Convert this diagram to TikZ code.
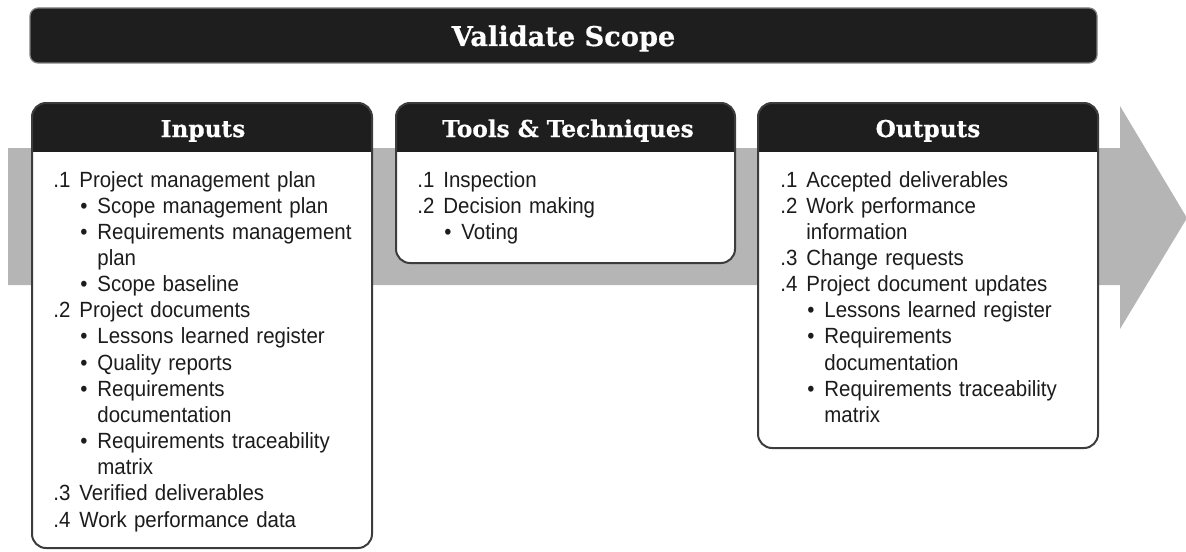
\documentclass[tikz,border=0pt]{standalone}
\usepackage{fontspec}
\setmainfont[FakeStretch=0.93]{Liberation Sans}
\newfontfamily\slabfont[FakeBold=0.6]{DejaVu Serif}
\usetikzlibrary{positioning}

\definecolor{bandgray}{RGB}{181,181,181}
\definecolor{headblack}{RGB}{30,30,30}
\definecolor{rimgray}{RGB}{60,60,60}
\definecolor{inkgray}{RGB}{28,28,28}

\newlength\numw \setlength\numw{13pt}
\newlength\bulw \setlength\bulw{22pt}
% numbered line and bullet line, wrapped lines hang under the text
\newcommand\numitem[2]{\hangindent\numw\hangafter1\noindent\makebox[\numw][l]{#1}#2\par}
\newcommand\bulitem[1]{\hangindent\bulw\hangafter1\noindent\hspace*{\numw}%
  \makebox[\dimexpr\bulw-\numw\relax][l]{\hspace{0.5pt}\textbullet}#1\par}

\begin{document}
\begin{tikzpicture}[x=0.5pt, y=-0.5pt,
    headtxt/.style={text=white, inner sep=0, anchor=base,
                    font=\slabfont\bfseries\fontsize{11.6}{13}\selectfont},
    listtxt/.style={text=inkgray, inner sep=0, text width=160pt, align=left,
                    anchor=base west, font=\fontsize{11}{13.08}\selectfont},
    boxrim/.style={draw=rimgray, line width=1pt, rounded corners=7pt}]
  \useasboundingbox (0,0) rectangle (1186,551);

  % big grey arrow behind the boxes
  \fill[bandgray] (8,148) -- (1120,148) -- (1120,106) -- (1187,218)
                  -- (1120,329) -- (1120,285) -- (8,285) -- cycle;

  % title bar
  \node[fill=headblack, draw=gray, line width=0.6pt, rounded corners=4pt,
        minimum width=533.5pt, minimum height=27.5pt, inner sep=0] (bar) at (563.5,35.5) {};
  \node[headtxt, font=\slabfont\bfseries\fontsize{13.6}{15}\selectfont] (bartxt) at (563.5,46) {Validate Scope};

  % the three boxes: white body, black head
  \foreach \xl/\xr/\yb in {32/372/548, 396/735/263, 758/1098/448} {
    \fill[white, rounded corners=7pt] (\xl,103) rectangle (\xr,\yb);
    \begin{scope}
      \clip (\xl,100) rectangle (\xr,151);
      \fill[headblack, rounded corners=7pt] (\xl,103) rectangle (\xr,\yb);
    \end{scope}
    \draw[boxrim] (\xl,103) rectangle (\xr,\yb);
  }

  \node[headtxt] (intitle) at (203,137) {Inputs};
  \node[headtxt] (tttitle) at (568,137) {Tools \& Techniques};
  \node[headtxt] (outtitle) at (928,137) {Outputs};

  \node[listtxt] (inlist) at (53,187) {%
    \numitem{.1}{Project management plan}%
    \bulitem{Scope management plan}%
    \bulitem{Requirements management\newline plan}%
    \bulitem{Scope baseline}%
    \numitem{.2}{Project documents}%
    \bulitem{Lessons learned register}%
    \bulitem{Quality reports}%
    \bulitem{Requirements\newline documentation}%
    \bulitem{Requirements traceability\newline matrix}%
    \numitem{.3}{Verified deliverables}%
    \numitem{.4}{Work performance data}};

  \node[listtxt] (ttlist) at (417,187) {%
    \numitem{.1}{Inspection}%
    \numitem{.2}{Decision making}%
    \bulitem{Voting}};

  \node[listtxt] (outlist) at (780,187) {%
    \numitem{.1}{Accepted deliverables}%
    \numitem{.2}{Work performance\newline information}%
    \numitem{.3}{Change requests}%
    \numitem{.4}{Project document updates}%
    \bulitem{Lessons learned register}%
    \bulitem{Requirements\newline documentation}%
    \bulitem{Requirements traceability\newline matrix}};
\end{tikzpicture}
\end{document}
